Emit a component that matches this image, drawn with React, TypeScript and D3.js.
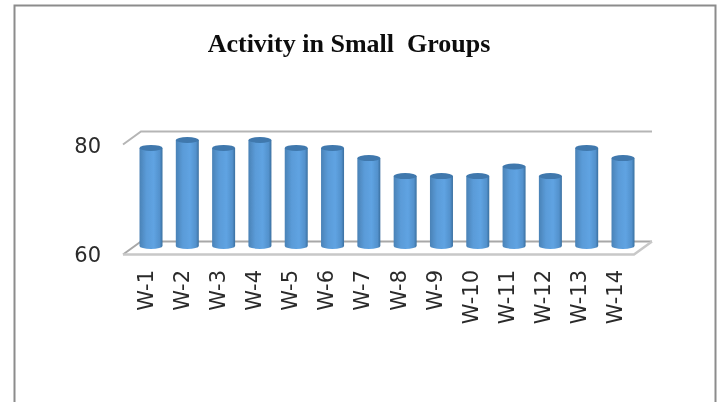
import * as d3 from "d3";

const weeks = ["W-1", "W-2", "W-3", "W-4", "W-5", "W-6", "W-7", "W-8", "W-9", "W-10", "W-11", "W-12", "W-13", "W-14"];
const activity = [78.5, 80, 78.5, 80, 78.5, 78.5, 76.6, 73.2, 73.2, 73.2, 75, 73.2, 78.5, 76.6];
const yTicks = [60, 80];
const titleText = "Activity in Small  Groups";

const width = 718;
const height = 402;

const barWidth = 23;
const capRy = 3;
// the walls are further back than the bars, so they get their own scale
const depthX = 18;
const depthY = 13;

const x = d3.scalePoint<string>().domain(weeks).range([151, 623]);
const xLabel = d3.scalePoint<string>().domain(weeks).range([153, 622]);
const y = d3.scaleLinear().domain([60, 80]).range([246, 140]);
const wallY = d3.scaleLinear().domain([60, 80]).range([241.5, 131.5]);
const labelY = d3.scaleLinear().domain([60, 80]).range([262, 153]);

const App = () => {
	const floorLeft = x("W-1")! - 28;
	const floorRight = x("W-14")! + 11;

	return (
		<svg
			width={width}
			height={height}
			viewBox={`0 0 ${width} ${height}`}
			style={{position: "absolute", left: 0, top: 0, background: "#fff"}}
		>
			<defs>
				<linearGradient id="cyl" x1="0" x2="1" y1="0" y2="0">
					<stop offset="0" stopColor="#4a82b6" />
					<stop offset="0.3" stopColor="#5a9bd8" />
					<stop offset="0.62" stopColor="#5fa3e2" />
					<stop offset="0.88" stopColor="#5391cc" />
					<stop offset="1" stopColor="#3a6f9f" />
				</linearGradient>
				<filter id="soft" x="-10%" y="-10%" width="120%" height="120%">
					<feGaussianBlur stdDeviation="0.7" />
				</filter>
				<filter id="softText" x="-10%" y="-10%" width="120%" height="120%">
					<feGaussianBlur stdDeviation="0.5" />
				</filter>
			</defs>

			{/* outer frame, open at the bottom */}
			<path d={`M14.5,${height} V5.5 H715.5 V${height}`} fill="none" stroke="#8c8c8c" strokeWidth={2} />

			<text
				x={349}
				y={51.5}
				textAnchor="middle"
				fontFamily="'Liberation Serif', serif"
				fontWeight="bold"
				fontSize={26}
				fill="#111"
				filter="url(#softText)"
				style={{whiteSpace: "pre"}}
			>
				{titleText}
			</text>

			<g filter="url(#soft)">
				{/* side wall edge and back wall gridlines */}
				{yTicks.map((t) => (
					<path
						key={t}
						d={`M${floorLeft},${wallY(t) + depthY} L${floorLeft + depthX},${wallY(t)} H${floorRight + depthX}`}
						fill="none"
						stroke={t === 60 ? "#a8a8a8" : "#b5b5b5"}
						strokeWidth={2}
					/>
				))}
				{/* floor front edge */}
				<path
					d={`M${floorLeft},${wallY(60) + depthY} H${floorRight} L${floorRight + depthX},${wallY(60)}`}
					fill="none"
					stroke="#c8c8c8"
					strokeWidth={2.5}
				/>

				{weeks.map((w, i) => {
					const cx = x(w)!;
					const top = y(activity[i]);
					const base = y(60);
					const l = cx - barWidth / 2;
					const r = cx + barWidth / 2;
					return (
						<g key={w}>
							<path
								d={`M${l},${top} V${base} A${barWidth / 2},${capRy} 0 0 0 ${r},${base} V${top} Z`}
								fill="url(#cyl)"
							/>
							<ellipse cx={cx} cy={top} rx={barWidth / 2} ry={capRy} fill="#3f78ad" />
						</g>
					);
				})}
			</g>

			<g filter="url(#softText)" fontFamily="'DejaVu Sans', sans-serif" fontSize={21} fill="#2a2a2a">
				{yTicks.map((t) => (
					<text key={t} x={101} y={labelY(t)} textAnchor="end">
						{t}
					</text>
				))}

				{weeks.map((w) => (
					<text key={w} transform={`translate(${xLabel(w)!},270) rotate(-90)`} textAnchor="end">
						{w}
					</text>
				))}
			</g>
		</svg>
	);
};

export default App;
